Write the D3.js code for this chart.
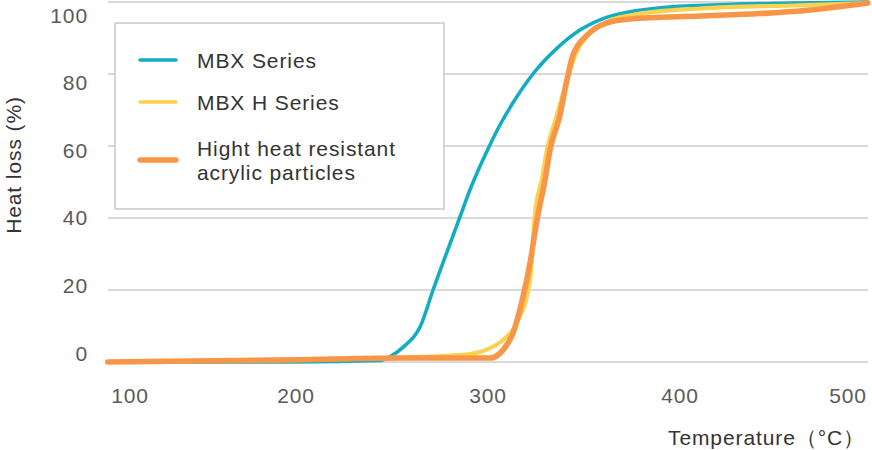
<!DOCTYPE html>
<html>
<head>
<meta charset="utf-8">
<script src="https://cdn.jsdelivr.net/npm/d3@7"></script>
<style>
  html, body { margin: 0; padding: 0; background: #fff; }
  svg { display: block; }
  text { font-family: "Liberation Sans", Arial, Helvetica, sans-serif; letter-spacing: 0.9px; }
</style>
</head>
<body>
<svg id="chart" width="872" height="450"></svg>
<script>
// ---------- data ----------
const seriesNames = ["MBX Series", "MBX H Series", "Hight heat resistant acrylic particles"];
const legendLines = [["MBX Series"], ["MBX H Series"], ["Hight heat resistant", "acrylic particles"]];
const seriesColors = ["#13adc3", "#fbd24f", "#f89648"];

const tempMBX   = [102, 200, 243.8, 249, 256, 264.6, 271.4, 285.4, 290.6, 301, 307, 313, 323.4, 336, 347.9, 360, 374, 390, 420, 460, 497.9];
const lossMBX   = [0,   0,   0.4,   1.5, 4.2, 9.7,   20,    40.3,  47.8,  60.3, 66.6, 72, 80, 87.2, 92.2, 95.4, 97.3, 98.4, 99.2, 99.7, 100];

const tempMBXH  = [102, 200, 254, 290.6, 300, 307.8, 315, 321.9, 324.5, 328, 330.7, 335.9, 341.1, 346, 351.6, 362, 375.5, 410.4, 462.5, 497.9];
const lossMBXH  = [0,   0.6, 1.2, 2.2,   3.6, 6.1,   10.8, 22.8, 41.4, 50.6, 58.9, 68.6, 78.3, 86, 90.5, 94.5, 96.4, 98.2, 99.1, 99.7];

const tempHHR   = [102, 200, 254, 301, 307.8, 313, 318.2, 321.9, 325.5, 329.7, 332.3, 337.5, 341.1, 344.3, 351.6, 362, 374, 410.4, 441.7, 462.5, 497.9];
const lossHHR   = [0,   0.6, 1.1, 1.1, 3.3,   8,   18,    27.5,  39.4,  50.6,  58.9,  68.6,  78.3,  85.3,  90.8,  94.2, 95.3, 96.1, 96.8, 97.5, 99.7];

const xTicks = [100, 200, 300, 400, 500];
const yTicks = [0, 20, 40, 60, 80, 100];

const xTitle = "Temperature（°C）";
const yTitle = "Heat loss (%)";

// ---------- chart ----------
const svg = d3.select("#chart");

const x = d3.scaleLinear().domain([100, 500]).range([104, 872]);
const y = d3.scaleLinear().domain([0, 100]).range([362, 2]);
// tick labels in the reference sit on their own evenly spaced positions
const yLabel = d3.scaleLinear().domain([0, 100]).range([353, 15]);

const gridLeft = 108, gridRight = 868;

// gridlines
svg.append("g").selectAll("line").data(yTicks).join("line")
  .attr("x1", gridLeft).attr("x2", gridRight)
  .attr("y1", d => y(d)).attr("y2", d => y(d))
  .attr("stroke", "#cccccc").attr("stroke-width", 1.5);

// y tick labels
svg.append("g").selectAll("text").data(yTicks).join("text")
  .attr("x", 88).attr("y", d => yLabel(d))
  .attr("text-anchor", "end").attr("dominant-baseline", "central")
  .attr("font-size", 21).attr("fill", "#5a5a5a")
  .text(d => d);

// x tick labels
svg.append("g").selectAll("text").data(xTicks).join("text")
  .attr("x", d => Math.max(130, Math.min(848, x(d))))
  .attr("y", 395)
  .attr("text-anchor", "middle").attr("dominant-baseline", "central")
  .attr("font-size", 21).attr("fill", "#5a5a5a")
  .text(d => d);

// axis titles
svg.append("text")
  .attr("transform", "translate(21,165) rotate(-90)")
  .attr("text-anchor", "middle")
  .attr("font-size", 21).attr("fill", "#333")
  .text(yTitle);

svg.append("text")
  .attr("x", 668).attr("y", 437)
  .attr("dominant-baseline", "central")
  .attr("font-size", 21).attr("fill", "#333")
  .text(xTitle);

// legend
const lg = svg.append("g");
lg.append("rect")
  .attr("x", 115).attr("y", 23).attr("width", 329).attr("height", 186)
  .attr("fill", "#fff").attr("stroke", "#cccccc").attr("stroke-width", 1.6);

const legendY = [60, 102, 160];
const legendW = [3.5, 3.5, 5.5];
legendLines.forEach((lines, i) => {
  lg.append("line")
    .attr("x1", 140).attr("x2", 176)
    .attr("y1", legendY[i]).attr("y2", legendY[i])
    .attr("stroke", seriesColors[i]).attr("stroke-width", legendW[i])
    .attr("stroke-linecap", "round");
  const t = lg.append("text")
    .attr("x", 197).attr("font-size", 21).attr("fill", "#333");
  lines.forEach((ln, j) => {
    t.append("tspan")
      .attr("x", 197)
      .attr("y", (lines.length > 1 ? legendY[i] - 12 : legendY[i]) + j * 24)
      .attr("dominant-baseline", "central")
      .text(ln);
  });
});

// curves
const line = d3.line()
  .x(d => x(d[0])).y(d => y(d[1]))
  .curve(d3.curveMonotoneX);

const seriesData = [
  { t: tempMBX,  v: lossMBX,  w: 3.6 },
  { t: tempMBXH, v: lossMBXH, w: 4.2 },
  { t: tempHHR,  v: lossHHR,  w: 5.6 }
];

svg.append("g").selectAll("path").data(seriesData).join("path")
  .attr("d", s => line(s.t.map((t, i) => [t, s.v[i]])))
  .attr("fill", "none")
  .attr("stroke", (s, i) => seriesColors[i])
  .attr("stroke-width", s => s.w)
  .attr("stroke-linecap", "round")
  .attr("stroke-linejoin", "round");
</script>
</body>
</html>
